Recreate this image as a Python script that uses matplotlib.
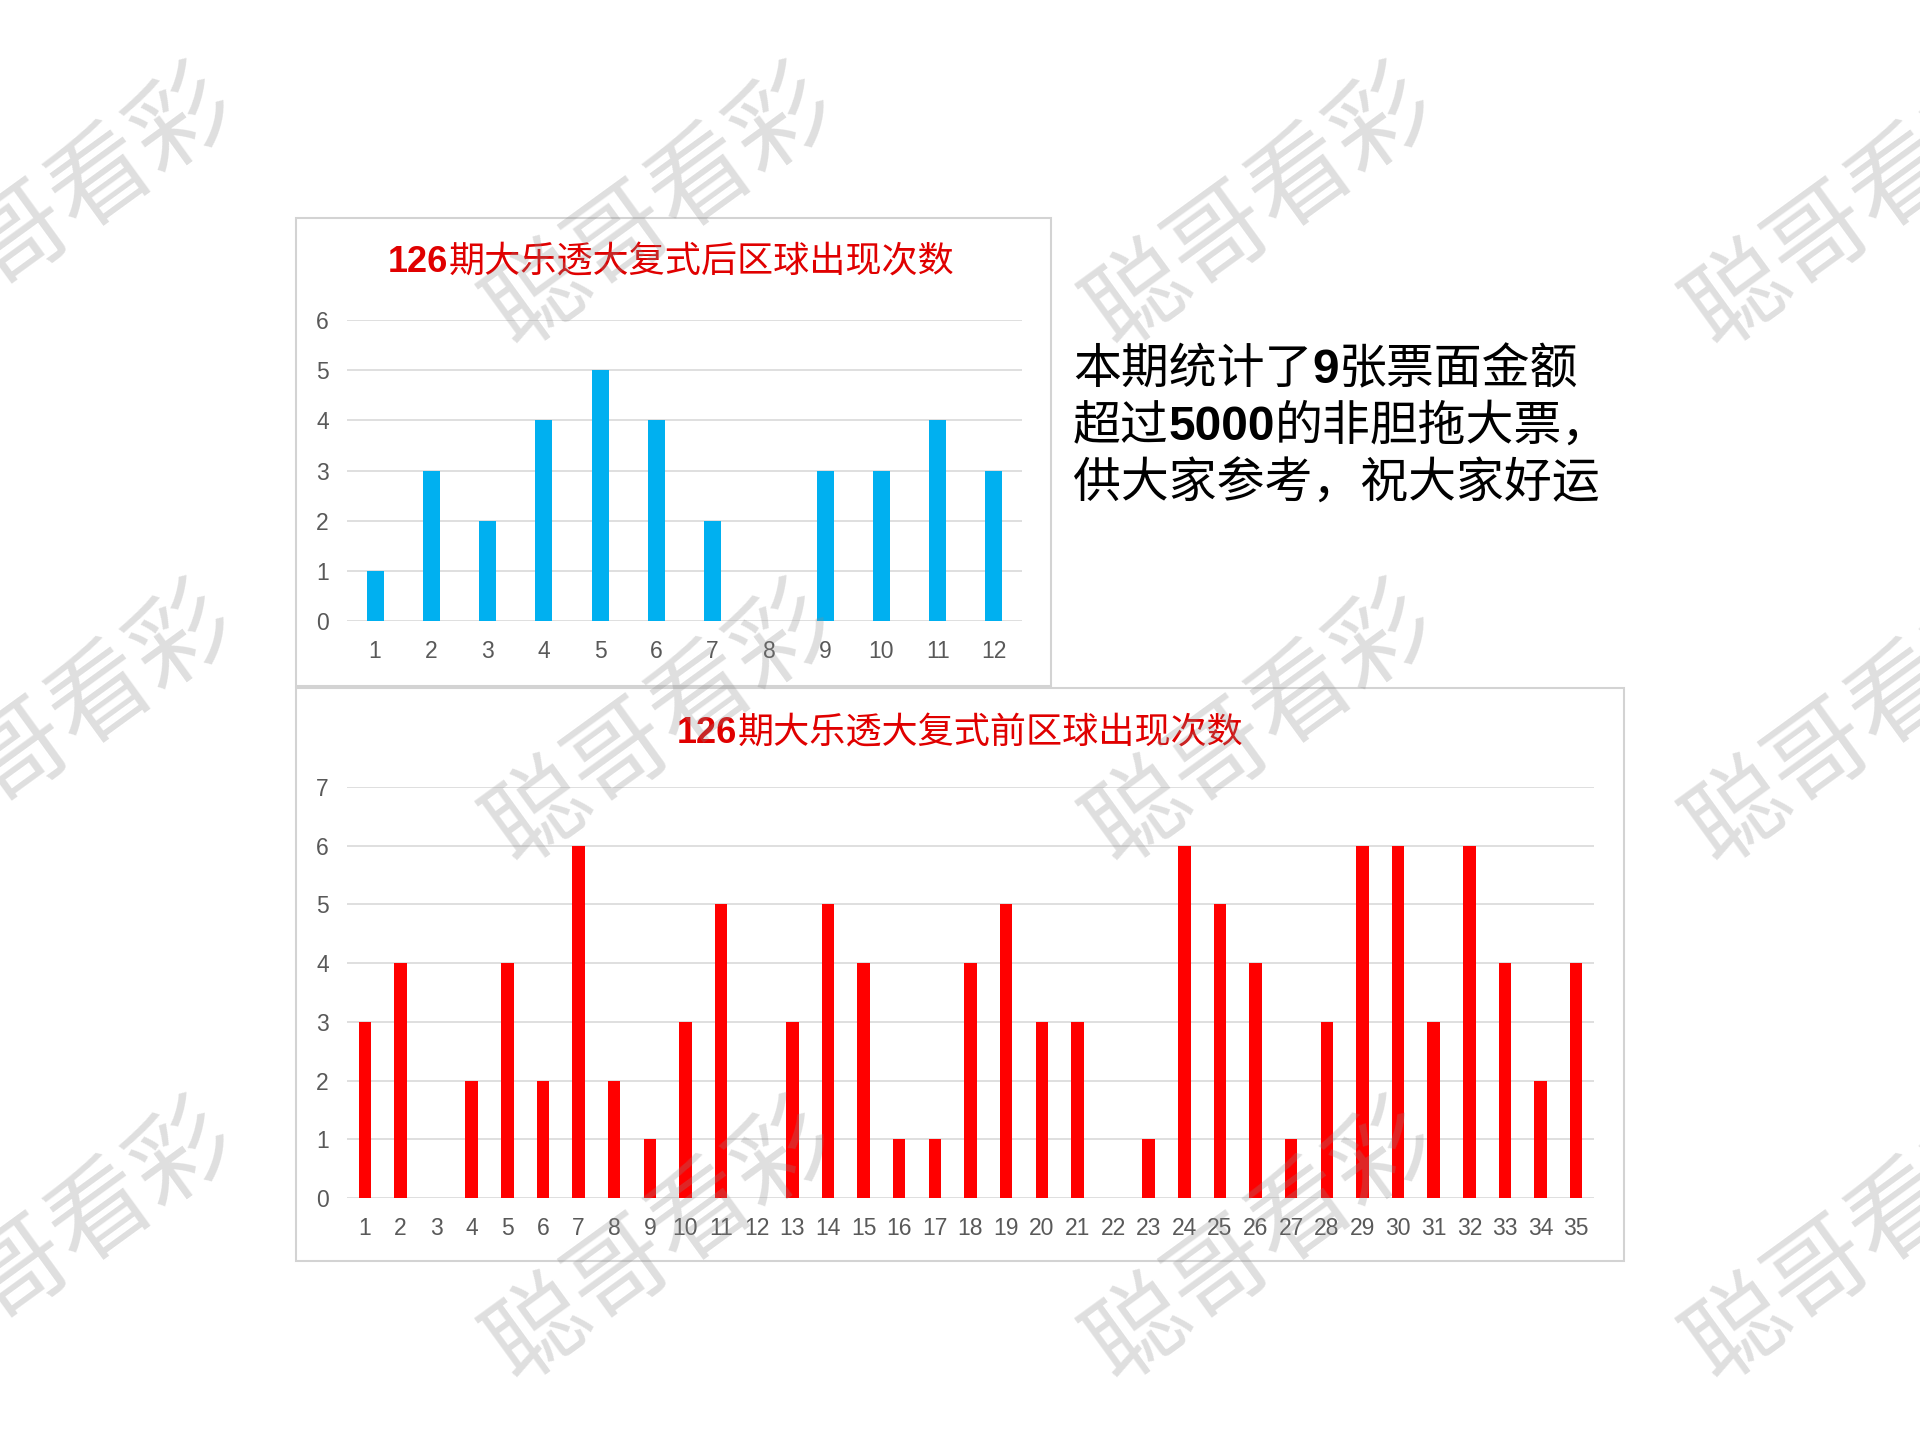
import matplotlib
matplotlib.use("Agg")
import matplotlib.pyplot as plt
from matplotlib.patches import Rectangle

# ---- data ----
BACK_BALLS = [str(i) for i in range(1, 13)]
BACK_COUNTS = [1, 3, 2, 4, 5, 4, 2, 0, 3, 3, 4, 3]
FRONT_BALLS = [str(i) for i in range(1, 36)]
FRONT_COUNTS = [3, 4, 0, 2, 4, 2, 6, 2, 1, 3, 5, 0, 3, 5, 4, 1, 1, 4, 5, 3,
                3, 0, 1, 6, 5, 4, 1, 3, 6, 6, 3, 6, 4, 2, 4]
BACK_TITLE = ("126", "期大乐透大复式后区球出现次数")
FRONT_TITLE = ("126", "期大乐透大复式前区球出现次数")
NOTE_LINES = [
    [("本期统计了", False), ("9", True), ("张票面金额", False)],
    [("超过", False), ("5000", True), ("的非胆拖大票，", False)],
    [("供大家参考，祝大家好运", False)],
]
WATERMARK = "聪哥看彩"

CJK = ["Noto Sans CJK SC", "DejaVu Sans"]
LAT = ["Liberation Sans", "DejaVu Sans"]
W, H = 1920, 1440
BLUE = "#00B0F0"
RED = "#FF0000"
TITLE_RED = "#E00000"
GRID = "#D9D9D9"
TICK = "#595959"


def fx(px):
    return px / W


def fy(py):
    return 1 - py / H


fig = plt.figure(figsize=(19.2, 14.4), dpi=100)
fig.patch.set_facecolor("white")
renderer = fig.canvas.get_renderer()

# chart frames
for (x0, y0, x1, y1) in [(296, 218, 1051, 686), (296, 688, 1624, 1261)]:
    fig.add_artist(Rectangle((fx(x0), fy(y1)), fx(x1) - fx(x0), fy(y0) - fy(y1),
                             transform=fig.transFigure, fc="white", ec="#D3D3D3",
                             lw=1.5, zorder=-5))


def bar_panel(rect, labels, counts, ymax, color, width):
    x0, y0, x1, y1 = rect
    ax = fig.add_axes([fx(x0), fy(y1), fx(x1) - fx(x0), fy(y0) - fy(y1)])
    ax.set_facecolor("none")
    pos = list(range(1, len(labels) + 1))
    ax.bar(pos, counts, width=width, color=color, zorder=3)
    ax.set_xlim(0.5, len(labels) + 0.5)
    ax.set_ylim(0, ymax)
    ax.set_xticks(pos)
    ax.set_xticklabels(labels)
    ax.set_yticks(range(0, ymax + 1))
    for s in ax.spines.values():
        s.set_visible(False)
    ax.tick_params(length=0, labelsize=16.5, colors=TICK)
    ax.tick_params(axis="y", pad=13)
    ax.tick_params(axis="x", pad=14)
    for lab in ax.get_xticklabels() + ax.get_yticklabels():
        lab.set_family(LAT)
    ax.yaxis.grid(True, color=GRID, lw=1.2)
    ax.set_axisbelow(True)
    return ax


bar_panel((347, 320, 1022, 621), BACK_BALLS, BACK_COUNTS, 6, BLUE, 0.30)
bar_panel((347, 787, 1594, 1198), FRONT_BALLS, FRONT_COUNTS, 7, RED, 0.35)


def put_segments(segs, x_start, baseline, size, color, center=False):
    texts = []
    for s, bold in segs:
        t = fig.text(0, fy(baseline), s, va="baseline", ha="left", fontsize=size,
                     color=color, family=LAT if bold else CJK,
                     fontweight="bold" if bold else "normal")
        texts.append(t)
    widths = [t.get_window_extent(renderer).width for t in texts]
    x = x_start - sum(widths) / 2 if center else x_start
    for t, w in zip(texts, widths):
        t.set_x(fx(x))
        x += w


# chart titles
put_segments([(BACK_TITLE[0], True), (BACK_TITLE[1], False)], 671, 272, 26, TITLE_RED, center=True)
put_segments([(FRONT_TITLE[0], True), (FRONT_TITLE[1], False)], 960, 743, 26, TITLE_RED, center=True)

# side note
for segs, base in zip(NOTE_LINES, [383, 440, 498]):
    put_segments(segs, 1073, base, 34.5, "black")

# watermark grid
for cy in [210, 727, 1244]:
    for cx in [61, 661, 1261, 1861]:
        fig.text(fx(cx), fy(cy), WATERMARK, rotation=36, rotation_mode="anchor",
                 ha="center", va="center", fontsize=72, color="#8C8C8C",
                 fontweight="light", alpha=0.28, family=CJK, zorder=10)

fig.savefig("out.png", dpi=100)
